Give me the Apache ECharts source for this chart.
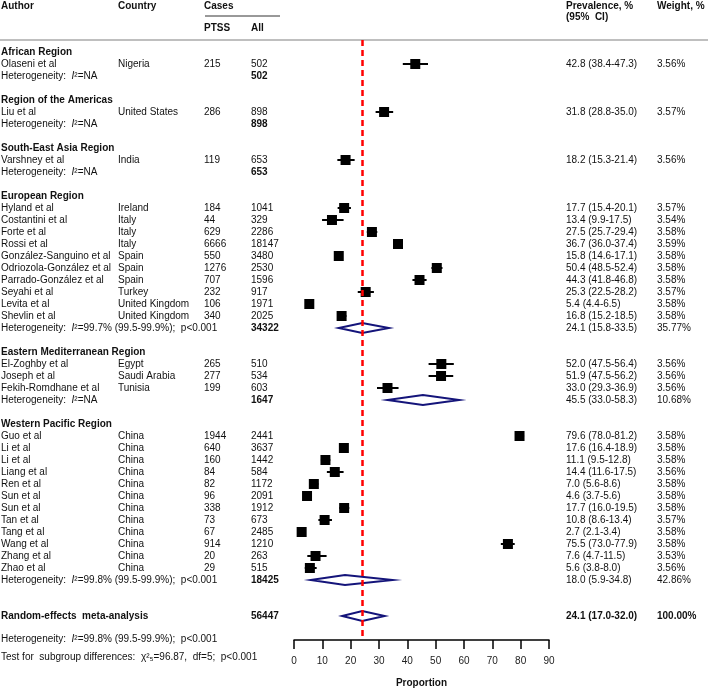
<!DOCTYPE html>
<html>
<head>
<meta charset="utf-8">
<script src="https://cdn.jsdelivr.net/npm/echarts@6/dist/echarts.min.js"></script>
<style>
  html, body { margin: 0; padding: 0; background: #fff; }
  #main { width: 708px; height: 689px; }
</style>
</head>
<body>
<div id="main"></div>
<script>
// regions, in plot order
var regions = ['African Region', 'Region of the Americas', 'South-East Asia Region',
  'European Region', 'Eastern Mediterranean Region', 'Western Pacific Region'];

// studies
var authors = ['Olaseni et al', 'Liu et al', 'Varshney et al',
  'Hyland et al', 'Costantini et al', 'Forte et al', 'Rossi et al', 'González-Sanguino et al',
  'Odriozola-González et al', 'Parrado-González et al', 'Seyahi et al', 'Levita et al', 'Shevlin et al',
  'El-Zoghby et al', 'Joseph et al', 'Fekih-Romdhane et al',
  'Guo et al', 'Li et al', 'Li et al', 'Liang et al', 'Ren et al', 'Sun et al', 'Sun et al',
  'Tan et al', 'Tang et al', 'Wang et al', 'Zhang et al', 'Zhao et al'];
var countries = ['Nigeria', 'United States', 'India',
  'Ireland', 'Italy', 'Italy', 'Italy', 'Spain', 'Spain', 'Spain', 'Turkey', 'United Kingdom', 'United Kingdom',
  'Egypt', 'Saudi Arabia', 'Tunisia',
  'China', 'China', 'China', 'China', 'China', 'China', 'China', 'China', 'China', 'China', 'China', 'China'];
var studyRegion = [0, 1, 2, 3, 3, 3, 3, 3, 3, 3, 3, 3, 3, 4, 4, 4,
  5, 5, 5, 5, 5, 5, 5, 5, 5, 5, 5, 5];
var ptss = [215, 286, 119, 184, 44, 629, 6666, 550, 1276, 707, 232, 106, 340, 265, 277, 199,
  1944, 640, 160, 84, 82, 96, 338, 73, 67, 914, 20, 29];
var allCases = [502, 898, 653, 1041, 329, 2286, 18147, 3480, 2530, 1596, 917, 1971, 2025, 510, 534, 603,
  2441, 3637, 1442, 584, 1172, 2091, 1912, 673, 2485, 1210, 263, 515];
var prev = [42.8, 31.8, 18.2, 17.7, 13.4, 27.5, 36.7, 15.8, 50.4, 44.3, 25.3, 5.4, 16.8, 52.0, 51.9, 33.0,
  79.6, 17.6, 11.1, 14.4, 7.0, 4.6, 17.7, 10.8, 2.7, 75.5, 7.6, 5.6];
var prevLo = [38.4, 28.8, 15.3, 15.4, 9.9, 25.7, 36.0, 14.6, 48.5, 41.8, 22.5, 4.4, 15.2, 47.5, 47.5, 29.3,
  78.0, 16.4, 9.5, 11.6, 5.6, 3.7, 16.0, 8.6, 2.1, 73.0, 4.7, 3.8];
var prevHi = [47.3, 35.0, 21.4, 20.1, 17.5, 29.4, 37.4, 17.1, 52.4, 46.8, 28.2, 6.5, 18.5, 56.4, 56.2, 36.9,
  81.2, 18.9, 12.8, 17.5, 8.6, 5.6, 19.5, 13.4, 3.4, 77.9, 11.5, 8.0];
var weights = ['3.56%', '3.57%', '3.56%', '3.57%', '3.54%', '3.58%', '3.59%', '3.58%', '3.58%', '3.58%',
  '3.57%', '3.58%', '3.58%', '3.56%', '3.56%', '3.56%', '3.58%', '3.58%', '3.58%', '3.56%', '3.58%',
  '3.58%', '3.58%', '3.57%', '3.58%', '3.58%', '3.53%', '3.56%'];

// subgroup summaries (null = no pooled estimate drawn)
var regionHet = ['NA', 'NA', 'NA', '99.7% (99.5-99.9%);  p<0.001', 'NA', '99.8% (99.5-99.9%);  p<0.001'];
var regionTotal = [502, 898, 653, 34322, 1647, 18425];
var regionPrev = [null, null, null, 24.1, 45.5, 18.0];
var regionLo = [null, null, null, 15.8, 33.0, 5.9];
var regionHi = [null, null, null, 33.5, 58.3, 34.8];
var regionWeight = [null, null, null, '35.77%', '10.68%', '42.86%'];

// overall
var overallTotal = 56447;
var overallPrev = 24.1, overallLo = 17.0, overallHi = 32.0;
var overallWeight = '100.00%';
var overallHet = '99.8% (99.5-99.9%);  p<0.001';

var FONT = '"Liberation Sans", Arial, sans-serif';

// ---- row layout ----
var studyRows = [], regionRows = [], hetRows = [];
var r = 0;
regions.forEach(function (name, g) {
  regionRows.push(r);
  r++;
  for (var i = 0; i < authors.length; i++) {
    if (studyRegion[i] === g) { studyRows[i] = r; r++; }
  }
  hetRows.push(r);
  r += 2;
});
var overallRow = r + 1;

var studyData = prev.map(function (v, i) { return [v, prevLo[i], prevHi[i], studyRows[i]]; });
var diamondData = [];
regionPrev.forEach(function (v, g) {
  if (v !== null) diamondData.push([v, regionLo[g], regionHi[g], hetRows[g]]);
});
diamondData.push([overallPrev, overallLo, overallHi, overallRow]);

var chart = echarts.init(document.getElementById('main'));

chart.setOption({
  animation: false,
  grid: { left: 294, right: 159, top: 40, bottom: 49, containLabel: false, outerBoundsMode: 'none' },
  xAxis: {
    type: 'value', min: 0, max: 90, interval: 10, position: 'bottom',
    axisLine: { show: true, onZero: false, lineStyle: { color: '#000', width: 1.5 } },
    axisTick: { show: true, length: 9, lineStyle: { color: '#000', width: 1.5 } },
    axisLabel: { margin: 16, fontSize: 10, color: '#222', fontFamily: FONT },
    splitLine: { show: false },
    name: 'Proportion', nameLocation: 'middle', nameGap: 38,
    nameTextStyle: { fontSize: 10, fontWeight: 'bold', color: '#111', fontFamily: FONT }
  },
  yAxis: { type: 'value', min: -1, max: 49, inverse: true, show: false },
  series: [
    {
      type: 'custom',
      data: diamondData,
      z: 3,
      renderItem: function (params, api) {
        var row = api.value(3);
        var c = api.coord([api.value(0), row]);
        var lo = api.coord([api.value(1), row]);
        var hi = api.coord([api.value(2), row]);
        var h = 5;
        return {
          type: 'polygon',
          shape: { points: [[lo[0], c[1]], [c[0], c[1] - h], [hi[0], c[1]], [c[0], c[1] + h]] },
          style: { fill: 'none', stroke: '#14147a', lineWidth: 2 }
        };
      },
      markLine: {
        silent: true,
        symbol: ['none', 'none'],
        label: { show: false },
        lineStyle: { color: '#ff0000', type: [6, 4], width: 2.5 },
        data: [{ xAxis: overallPrev }]
      }
    },
    {
      type: 'custom',
      data: studyData,
      z: 4,
      renderItem: function (params, api) {
        var row = api.value(3);
        var c = api.coord([api.value(0), row]);
        var lo = api.coord([api.value(1), row]);
        var hi = api.coord([api.value(2), row]);
        var s = 10;
        return {
          type: 'group',
          children: [
            { type: 'line', shape: { x1: lo[0], y1: c[1], x2: hi[0], y2: c[1] },
              style: { stroke: '#000', lineWidth: 2 } },
            { type: 'rect', shape: { x: c[0] - s / 2, y: c[1] - s / 2, width: s, height: s },
              style: { fill: '#000' } }
          ]
        };
      }
    }
  ]
});

// ---- text columns ----
var colAuthor = 1, colCountry = 118, colPtss = 204, colAll = 251, colPrev = 566, colWeight = 657;

function rowY(row) { return chart.convertToPixel({ yAxisIndex: 0 }, row); }

function txt(x, y, text, bold) {
  return {
    type: 'text', silent: true,
    style: {
      x: x, y: y, text: text, fill: '#111',
      font: (bold ? 'bold ' : '') + '10px ' + FONT,
      align: 'left', verticalAlign: 'middle',
      rich: {
        it: { fontStyle: 'italic', fontSize: 10, fontFamily: FONT, fill: '#111' }
      }
    }
  };
}

var g = [];
// header
g.push(txt(colAuthor, 6, 'Author', true));
g.push(txt(colCountry, 6, 'Country', true));
g.push(txt(colPtss, 6, 'Cases', true));
g.push({ type: 'line', silent: true, shape: { x1: 205, y1: 16, x2: 280, y2: 16 },
  style: { stroke: '#333', lineWidth: 1 } });
g.push(txt(colPtss, 28, 'PTSS', true));
g.push(txt(colAll, 28, 'All', true));
g.push(txt(colPrev, 6, 'Prevalence, %', true));
g.push(txt(colPrev, 17, '(95%  CI)', true));
g.push(txt(colWeight, 6, 'Weight, %', true));
g.push({ type: 'line', silent: true, shape: { x1: 0, y1: 40, x2: 708, y2: 40 },
  style: { stroke: '#aaa', lineWidth: 1.5 } });

regions.forEach(function (name, gi) {
  g.push(txt(colAuthor, rowY(regionRows[gi]), name, true));
  var hy = rowY(hetRows[gi]);
  g.push(txt(colAuthor, hy, 'Heterogeneity:  {it|I}²=' + regionHet[gi], false));
  g.push(txt(colAll, hy, String(regionTotal[gi]), true));
  if (regionPrev[gi] !== null) {
    g.push(txt(colPrev, hy, regionPrev[gi].toFixed(1) + ' (' + regionLo[gi].toFixed(1) + '-' +
      regionHi[gi].toFixed(1) + ')', false));
    g.push(txt(colWeight, hy, regionWeight[gi], false));
  }
});

authors.forEach(function (a, i) {
  var y = rowY(studyRows[i]);
  g.push(txt(colAuthor, y, a, false));
  g.push(txt(colCountry, y, countries[i], false));
  g.push(txt(colPtss, y, String(ptss[i]), false));
  g.push(txt(colAll, y, String(allCases[i]), false));
  g.push(txt(colPrev, y, prev[i].toFixed(1) + ' (' + prevLo[i].toFixed(1) + '-' + prevHi[i].toFixed(1) + ')', false));
  g.push(txt(colWeight, y, weights[i], false));
});

var oy = rowY(overallRow);
g.push(txt(colAuthor, oy, 'Random-effects  meta-analysis', true));
g.push(txt(colAll, oy, String(overallTotal), true));
g.push(txt(colPrev, oy, overallPrev.toFixed(1) + ' (' + overallLo.toFixed(1) + '-' + overallHi.toFixed(1) + ')', true));
g.push(txt(colWeight, oy, overallWeight, true));
g.push(txt(colAuthor, oy + 23, 'Heterogeneity:  {it|I}²=' + overallHet, false));
g.push(txt(colAuthor, oy + 41, 'Test for  subgroup differences:  χ²₅=96.87,  df=5;  p<0.001', false));

chart.setOption({ graphic: g });
</script>
</body>
</html>
